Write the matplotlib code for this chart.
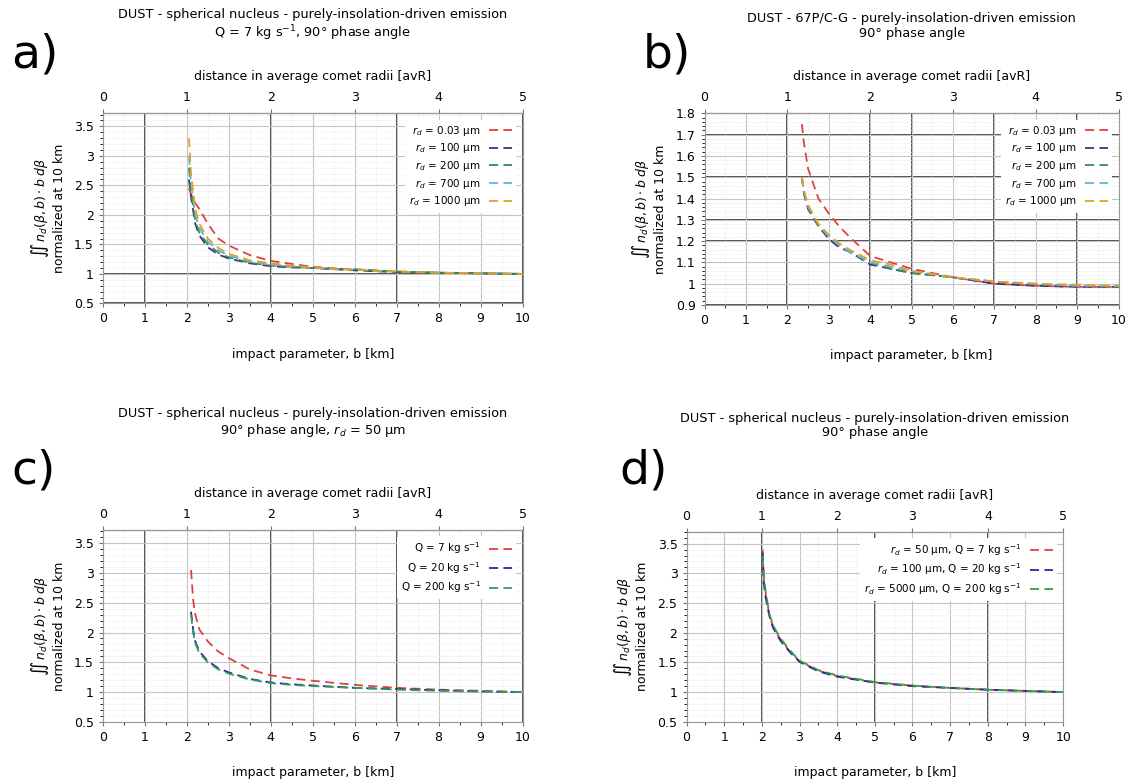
import matplotlib
matplotlib.use('Agg')
import matplotlib.pyplot as plt
import numpy as np

# ---- data (b in km, y normalised at 10 km) ----
# a) spherical nucleus, Q = 7 kg/s, 5 grain sizes
a_b = [2.05, 2.1, 2.2, 2.3, 2.5, 2.75, 3.0, 3.5, 4.0, 4.5, 5.0, 6.0, 7.0, 8.0, 9.0, 10.0]
a_r003 = [2.45, 2.35, 2.2, 2.1, 1.85, 1.6, 1.48, 1.32, 1.22, 1.17, 1.12, 1.07, 1.04, 1.02, 1.01, 1.0]
a_r100 = [2.6, 2.3, 1.85, 1.65, 1.45, 1.33, 1.26, 1.18, 1.13, 1.11, 1.1, 1.06, 1.03, 1.02, 1.01, 1.0]
a_r200 = [2.8, 2.4, 1.9, 1.7, 1.5, 1.36, 1.28, 1.19, 1.14, 1.12, 1.1, 1.08, 1.04, 1.02, 1.01, 1.0]
a_r700 = [3.0, 2.55, 2.0, 1.78, 1.55, 1.4, 1.31, 1.21, 1.16, 1.13, 1.1, 1.07, 1.04, 1.02, 1.01, 1.0]
a_r1000 = [3.3, 2.7, 2.1, 1.85, 1.6, 1.44, 1.34, 1.23, 1.18, 1.14, 1.11, 1.07, 1.04, 1.02, 1.01, 1.0]

# b) 67P/C-G shape model
b_b = [2.35, 2.4, 2.5, 2.75, 3.0, 3.25, 3.5, 4.0, 4.5, 5.0, 6.0, 7.0, 8.0, 9.0, 10.0]
b_r003 = [1.75, 1.66, 1.54, 1.40, 1.33, 1.27, 1.22, 1.13, 1.1, 1.07, 1.03, 1.0, 0.99, 0.985, 0.985]
b_r100 = [1.5, 1.42, 1.35, 1.27, 1.21, 1.17, 1.15, 1.09, 1.07, 1.05, 1.03, 1.0, 0.99, 0.985, 0.985]
b_r200 = [1.5, 1.43, 1.36, 1.27, 1.22, 1.18, 1.15, 1.10, 1.07, 1.05, 1.03, 1.01, 0.995, 0.99, 0.985]
b_r700 = [1.5, 1.43, 1.36, 1.28, 1.22, 1.18, 1.15, 1.10, 1.08, 1.06, 1.03, 1.01, 1.0, 0.99, 0.99]
b_r1000 = [1.5, 1.44, 1.37, 1.28, 1.23, 1.19, 1.16, 1.11, 1.09, 1.06, 1.03, 1.01, 1.0, 0.995, 0.99]

# c) spherical nucleus, r_d = 50 um, three production rates
c_b = [2.1, 2.15, 2.2, 2.3, 2.5, 2.75, 3.0, 3.5, 4.0, 4.5, 5.0, 6.0, 7.0, 8.0, 9.0, 10.0]
c_q7 = [3.05, 2.55, 2.3, 2.05, 1.85, 1.68, 1.57, 1.38, 1.28, 1.23, 1.19, 1.12, 1.07, 1.04, 1.02, 1.0]
c_q20 = [2.35, 2.05, 1.85, 1.68, 1.52, 1.40, 1.33, 1.22, 1.16, 1.13, 1.11, 1.07, 1.05, 1.03, 1.01, 1.0]
c_q200 = [2.3, 2.0, 1.82, 1.65, 1.5, 1.38, 1.31, 1.21, 1.15, 1.12, 1.10, 1.07, 1.04, 1.02, 1.01, 1.0]

# d) spherical nucleus, size / production-rate pairs
d_b = [2.02, 2.05, 2.1, 2.2, 2.3, 2.5, 2.75, 3.0, 3.5, 4.0, 5.0, 6.0, 7.0, 8.0, 9.0, 10.0]
d_s1 = [3.4, 2.9, 2.65, 2.3, 2.1, 1.88, 1.68, 1.52, 1.36, 1.27, 1.16, 1.11, 1.07, 1.04, 1.02, 1.0]
d_s2 = [3.35, 2.85, 2.6, 2.28, 2.08, 1.86, 1.67, 1.51, 1.35, 1.26, 1.16, 1.1, 1.07, 1.04, 1.02, 1.0]
d_s3 = [3.3, 3.0, 2.7, 2.32, 2.12, 1.9, 1.7, 1.53, 1.37, 1.28, 1.17, 1.11, 1.07, 1.04, 1.02, 1.0]

size_labels = [r'$r_d$ = 0.03 μm', r'$r_d$ = 100 μm', r'$r_d$ = 200 μm',
               r'$r_d$ = 700 μm', r'$r_d$ = 1000 μm']
q_labels = [r'Q = 7 kg s$^{-1}$', r'Q = 20 kg s$^{-1}$', r'Q = 200 kg s$^{-1}$']
pair_labels = [r'$r_d$ = 50 μm, Q = 7 kg s$^{-1}$',
               r'$r_d$ = 100 μm, Q = 20 kg s$^{-1}$',
               r'$r_d$ = 5000 μm, Q = 200 kg s$^{-1}$']

size_colors = ['#e04040', '#4b2a8a', '#2f8f4f', '#59b8d8', '#e6a020']
q_colors = ['#e04040', '#2a2a9a', '#2f9f5f']
pair_colors = ['#e04040', '#2a2a9a', '#3a9a4a']

plt.rcParams['font.family'] = 'DejaVu Sans'
fig = plt.figure(figsize=(11.31, 7.82), dpi=100)

ylabel = r'$\int\!\!\int\, n_d(\beta,b)\cdot b\;d\beta$' + '\nnormalized at 10 km'


def setup_panel(rect, ylim, yticks, yticklabels, yminor, title, title_y, letter,
                letter_xy, vdark, hdark):
    ax = fig.add_axes(rect)
    ax.set_xlim(0, 10)
    ax.set_ylim(*ylim)
    ax.set_xticks(range(11))
    ax.set_yticks(yticks)
    ax.set_yticklabels(yticklabels)
    ax.set_xticks(np.arange(0, 10.01, 0.5), minor=True)
    ax.set_yticks(yminor, minor=True)
    ax.grid(which='major', color='#c4c4c4', lw=0.8)
    ax.grid(which='minor', color='#e4e4e4', lw=0.6, ls=':')
    for v in vdark:
        ax.axvline(v, color='#404040', lw=1.3, zorder=1)
    for h in hdark:
        ax.axhline(h, color='#404040', lw=1.3, zorder=1)
    for s in ax.spines.values():
        s.set_color('#999999')
    ax.tick_params(labelsize=9, length=3, color='#777777')
    ax.set_xlabel('impact parameter, b [km]', fontsize=9, labelpad=16)
    ax.set_ylabel(ylabel, fontsize=9, labelpad=6)
    top = ax.secondary_xaxis('top', functions=(lambda x: x / 2.0, lambda r: r * 2.0))
    top.set_xticks(range(6))
    top.tick_params(labelsize=9, length=3, color='#777777')
    top.set_xlabel('distance in average comet radii [avR]', fontsize=9, labelpad=8)
    cx = rect[0] + rect[2] / 2
    fig.text(cx, title_y, title, ha='center', va='center',
             fontsize=9.3, linespacing=1.15)
    fig.text(letter_xy[0], letter_xy[1], letter, fontsize=34, va='center')
    return ax


def draw(ax, xs, series, colors, labels):
    for ys, c, lab in zip(series, colors, labels):
        ax.plot(xs, ys, color=c, lw=1.3, ls=(0, (5, 3)), label=lab, zorder=3)
    leg = ax.legend(loc='upper right', markerfirst=False, frameon=True, fontsize=7.5,
                    handlelength=2.2, labelspacing=0.35, borderaxespad=0.6)
    leg.get_frame().set_edgecolor('none')
    leg.get_frame().set_facecolor('white')
    leg.get_frame().set_alpha(1.0)
    for t in leg.get_texts():
        t.set_ha('right')


yt = [0.5, 1, 1.5, 2, 2.5, 3, 3.5]
ytl = ['0.5', '1', '1.5', '2', '2.5', '3', '3.5']

# a)
ax_a = setup_panel([0.091, 0.612, 0.371, 0.243], (0.5, 3.72), yt, ytl,
                   np.arange(0.5, 3.71, 0.1),
                   'DUST - spherical nucleus - purely-insolation-driven emission\n'
                   r'Q = 7 kg s$^{-1}$, 90° phase angle', 0.967,
                   'a)', (0.010, 0.930), [1, 4, 7, 10], [0.5, 1.0, 3.72])
draw(ax_a, a_b, [a_r003, a_r100, a_r200, a_r700, a_r1000], size_colors, size_labels)

# b)
b_ticks = [0.9, 1.0, 1.1, 1.2, 1.3, 1.4, 1.5, 1.6, 1.7, 1.8]
ax_b = setup_panel([0.623, 0.610, 0.366, 0.245], (0.9, 1.8),
                   b_ticks, ['0.9', '1', '1.1', '1.2', '1.3', '1.4', '1.5', '1.6', '1.7', '1.8'],
                   np.arange(0.9, 1.801, 0.02),
                   'DUST - 67P/C-G - purely-insolation-driven emission\n90° phase angle', 0.967,
                   'b)', (0.568, 0.930), [0, 2, 4, 5, 7, 9], [0.9, 1.2, 1.3, 1.5, 1.7, 1.8])
draw(ax_b, b_b, [b_r003, b_r100, b_r200, b_r700, b_r1000], size_colors, size_labels)

# c)
ax_c = setup_panel([0.091, 0.077, 0.371, 0.245], (0.5, 3.72), yt, ytl,
                   np.arange(0.5, 3.71, 0.1),
                   'DUST - spherical nucleus - purely-insolation-driven emission\n'
                   r'90° phase angle, $r_d$ = 50 μm', 0.459,
                   'c)', (0.010, 0.398), [1, 4, 7, 10], [3.72])
draw(ax_c, c_b, [c_q7, c_q20, c_q200], q_colors, q_labels)

# d)
ax_d = setup_panel([0.607, 0.077, 0.333, 0.243], (0.5, 3.7), yt, ytl,
                   np.arange(0.5, 3.71, 0.1),
                   'DUST - spherical nucleus - purely-insolation-driven emission\n90° phase angle',
                   0.456, 'd)', (0.548, 0.398), [2, 5, 8], [3.7])
draw(ax_d, d_b, [d_s1, d_s2, d_s3], pair_colors, pair_labels)

fig.savefig('out.png', dpi=100)
